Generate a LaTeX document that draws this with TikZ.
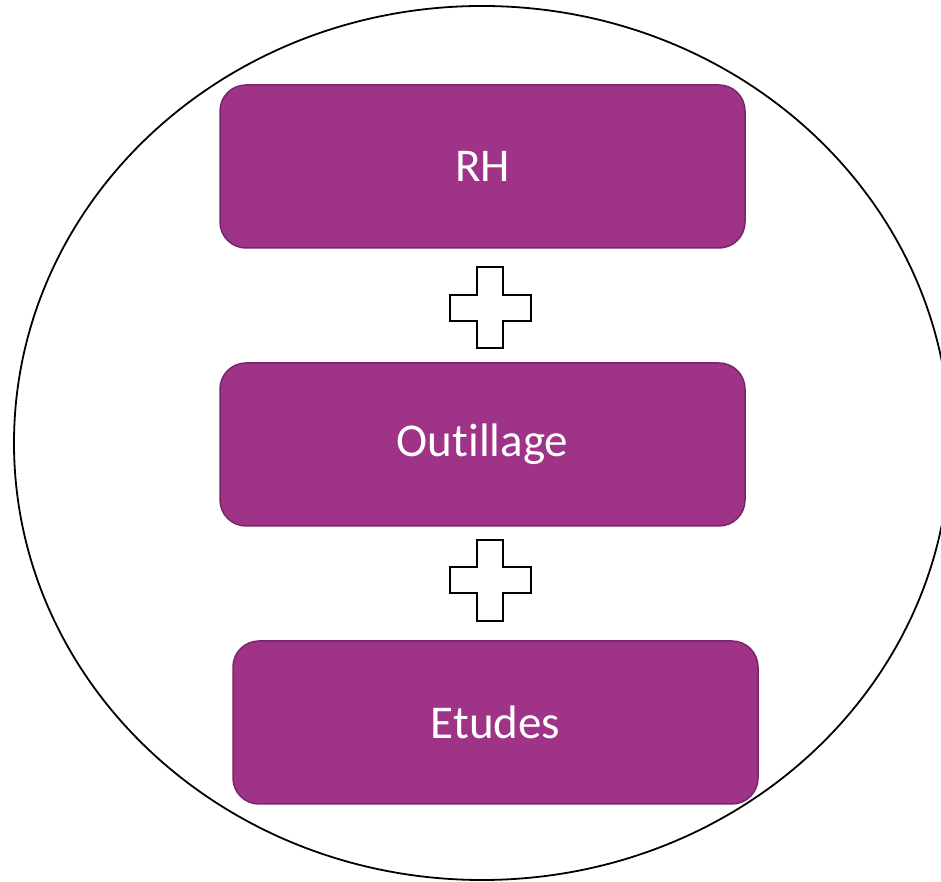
\documentclass[tikz,border=0pt]{standalone}
\usepackage{fontspec}
\setmainfont[Ligatures={NoCommon,NoRare}]{Carlito}
\definecolor{boxfill}{HTML}{9E3387}
\definecolor{boxline}{HTML}{7A2568}
\begin{document}
\begin{tikzpicture}[x=1pt,y=1pt,
  stepbox/.style={draw=boxline, line width=1.5pt, fill=boxfill, rounded corners=26pt,
    minimum width=525pt, minimum height=163pt, inner sep=0pt, text=white,
    font=\fontsize{47}{51}\selectfont},
  plus/.pic={\draw[line width=2pt, line join=miter]
    (-13,40.5) -- (13,40.5) -- (13,13) -- (40.5,13) -- (40.5,-13) -- (13,-13)
    -- (13,-40.5) -- (-13,-40.5) -- (-13,-13) -- (-40.5,-13) -- (-40.5,13)
    -- (-13,13) -- cycle;}
]
\useasboundingbox (0,0) rectangle (941,882);
\draw[line width=1.8pt] (482,439) ellipse [x radius=468, y radius=437];
\node[stepbox] (rh) at (482.5,715.5) {RH};
\node[stepbox] (out) at (482.5,437.5) {Outillage};
\node[stepbox] (etu) at (495.5,159.5) {Etudes};
\pic at (490,574) {plus};
\pic at (490,301.5) {plus};
\end{tikzpicture}
\end{document}
